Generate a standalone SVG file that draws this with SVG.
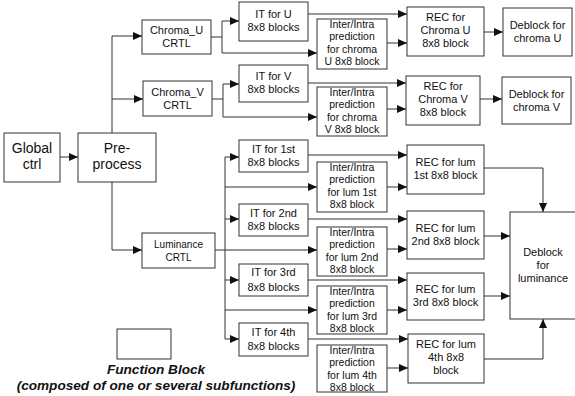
<svg xmlns="http://www.w3.org/2000/svg" width="575" height="396" viewBox="0 0 575 396">
<style>
.b{fill:#fff;stroke:#333;stroke-width:1}
.c{fill:none;stroke:#333;stroke-width:1}
text{font-family:"Liberation Sans",Arial,sans-serif;font-size:11px;fill:#111;text-anchor:middle}
.big{font-size:14px}
.sm{font-size:10px}
.ii{font-size:10.5px}
.lg{font-size:13.6px;font-weight:bold;font-style:italic}
</style>
<defs>
<marker id="a" markerWidth="9" markerHeight="8" refX="9" refY="4" orient="auto" markerUnits="userSpaceOnUse">
<path d="M0,0 L9,4 L0,8 z" fill="#111"/>
</marker>
</defs>
<g id="connectors">
<path class="c" d="M60,157 H78" marker-end="url(#a)"/>
<path class="c" d="M112,133 V36 H142" marker-end="url(#a)"/>
<path class="c" d="M112,99 H143" marker-end="url(#a)"/>
<path class="c" d="M112,182 V250 H142" marker-end="url(#a)"/>
<path class="c" d="M211,37 H222 V21 H239" marker-end="url(#a)"/>
<path class="c" d="M222,37 V53 H317" marker-end="url(#a)"/>
<path class="c" d="M308,14 H407" marker-end="url(#a)"/>
<path class="c" d="M387,43 H407" marker-end="url(#a)"/>
<path class="c" d="M484,32 H503" marker-end="url(#a)"/>
<path class="c" d="M212,99 H223 V84 H239" marker-end="url(#a)"/>
<path class="c" d="M223,99 V117 H317" marker-end="url(#a)"/>
<path class="c" d="M308,83 H406" marker-end="url(#a)"/>
<path class="c" d="M387,109 H406" marker-end="url(#a)"/>
<path class="c" d="M480,99 H502" marker-end="url(#a)"/>
<path class="c" d="M215,250 H317" marker-end="url(#a)"/>
<path class="c" d="M225,339 V157 H239" marker-end="url(#a)"/>
<path class="c" d="M225,219 H239" marker-end="url(#a)"/>
<path class="c" d="M225,280 H239" marker-end="url(#a)"/>
<path class="c" d="M225,339 H239" marker-end="url(#a)"/>
<path class="c" d="M225,187 H317" marker-end="url(#a)"/>
<path class="c" d="M225,310 H317" marker-end="url(#a)"/>
<path class="c" d="M308,155 H407" marker-end="url(#a)"/>
<path class="c" d="M387,187 H407" marker-end="url(#a)"/>
<path class="c" d="M308,219 H407" marker-end="url(#a)"/>
<path class="c" d="M387,249 H407" marker-end="url(#a)"/>
<path class="c" d="M308,280 H407" marker-end="url(#a)"/>
<path class="c" d="M387,310 H407" marker-end="url(#a)"/>
<path class="c" d="M308,339 H408" marker-end="url(#a)"/>
<path class="c" d="M387,368 H408" marker-end="url(#a)"/>
<path class="c" d="M484,168 H543 V212" marker-end="url(#a)"/>
<path class="c" d="M484,236 H510" marker-end="url(#a)"/>
<path class="c" d="M484,296 H510" marker-end="url(#a)"/>
<path class="c" d="M484,359 H543 V319" marker-end="url(#a)"/>
</g>
<g id="global"><rect class="b" x="4" y="133" width="56" height="49"/><text class="big" x="32" y="153">Global</text><text class="big" x="32" y="169">ctrl</text></g>
<g id="preprocess"><rect class="b" x="78" y="133" width="78" height="49"/><text class="big" x="117" y="153">Pre-</text><text class="big" x="117" y="169">process</text></g>
<g id="chromaU"><rect class="b" x="142" y="20" width="69" height="34"/><text x="176.5" y="34">Chroma_U</text><text x="176.5" y="47">CRTL</text></g>
<g id="chromaV"><rect class="b" x="143" y="81" width="69" height="35"/><text x="177.5" y="96">Chroma_V</text><text x="177.5" y="109">CRTL</text></g>
<g id="lumCRTL"><rect class="b" x="142" y="233" width="73" height="35"/><text class="sm" x="178.5" y="248">Luminance</text><text class="sm" x="178.5" y="261">CRTL</text></g>
<g id="itU"><rect class="b" x="239" y="2" width="69" height="39"/><text x="273.5" y="18">IT for U</text><text x="273.5" y="31">8x8 blocks</text></g>
<g id="itV"><rect class="b" x="239" y="65" width="69" height="37"/><text x="273.5" y="80">IT for  V</text><text x="273.5" y="93">8x8 blocks</text></g>
<g id="iiU" class="ii"><rect class="b" x="317" y="19" width="70" height="50"/><text class="ii" x="352" y="28">Inter/Intra</text><text class="ii" x="352" y="40">prediction</text><text class="ii" x="352" y="52.5">for chroma</text><text class="ii" x="352" y="65">U 8x8 block</text></g>
<g id="iiV"><rect class="b" x="317" y="87" width="70" height="49"/><text class="ii" x="352" y="96">Inter/Intra</text><text class="ii" x="352" y="108">prediction</text><text class="ii" x="352" y="120.5">for chroma</text><text class="ii" x="352" y="133">V 8x8 block</text></g>
<g id="recU"><rect class="b" x="407" y="7" width="77" height="49"/><text x="445.5" y="21">REC for</text><text x="445.5" y="34">Chroma U</text><text x="445.5" y="47">8x8 block</text></g>
<g id="recV"><rect class="b" x="406" y="76" width="74" height="49"/><text x="443" y="90">REC for</text><text x="443" y="103">Chroma V</text><text x="443" y="116">8x8 block</text></g>
<g id="dbU"><rect class="b" x="503" y="8" width="69" height="48"/><text x="537.5" y="29">Deblock for</text><text x="537.5" y="42">chroma U</text></g>
<g id="dbV"><rect class="b" x="502" y="77" width="69" height="47"/><text x="536.5" y="98">Deblock for</text><text x="536.5" y="111">chroma  V</text></g>
<g id="it1"><rect class="b" x="239" y="140" width="69" height="32"/><text x="273.5" y="153">IT for 1st</text><text x="273.5" y="166">8x8 blocks</text></g>
<g id="it2"><rect class="b" x="239" y="204" width="69" height="32"/><text x="273.5" y="217">IT for 2nd</text><text x="273.5" y="230">8x8 blocks</text></g>
<g id="it3"><rect class="b" x="239" y="264" width="69" height="32"/><text x="273.5" y="276">IT for 3rd</text><text x="273.5" y="291">8x8 blocks</text></g>
<g id="it4"><rect class="b" x="239" y="323" width="69" height="33"/><text x="273.5" y="336">IT for 4th</text><text x="273.5" y="350">8x8 blocks</text></g>
<g id="ii1"><rect class="b" x="317" y="162" width="70" height="50"/><text class="ii" x="352" y="171">Inter/Intra</text><text class="ii" x="352" y="183">prediction</text><text class="ii" x="352" y="195.5">for lum 1st</text><text class="ii" x="352" y="208">8x8 block</text></g>
<g id="ii2"><rect class="b" x="317" y="227" width="70" height="49"/><text class="ii" x="352" y="236">Inter/Intra</text><text class="ii" x="352" y="248">prediction</text><text class="ii" x="352" y="260.5">for lum 2nd</text><text class="ii" x="352" y="273">8x8 block</text></g>
<g id="ii3"><rect class="b" x="317" y="286" width="70" height="48"/><text class="ii" x="352" y="295">Inter/Intra</text><text class="ii" x="352" y="307">prediction</text><text class="ii" x="352" y="319.5">for lum 3rd</text><text class="ii" x="352" y="332">8x8 block</text></g>
<g id="ii4"><rect class="b" x="317" y="345" width="70" height="47"/><text class="ii" x="352" y="354">Inter/Intra</text><text class="ii" x="352" y="366">prediction</text><text class="ii" x="352" y="378.5">for lum 4th</text><text class="ii" x="352" y="391">8x8 block</text></g>
<g id="rec1"><rect class="b" x="407" y="145" width="77" height="49"/><text x="445.5" y="166">REC for lum</text><text x="445.5" y="179">1st 8x8 block</text></g>
<g id="rec2"><rect class="b" x="407" y="211" width="77" height="48"/><text x="445.5" y="232">REC for lum</text><text x="445.5" y="245">2nd 8x8 block</text></g>
<g id="rec3"><rect class="b" x="407" y="273" width="77" height="47"/><text x="445.5" y="293">REC for lum</text><text x="445.5" y="306">3rd 8x8 block</text></g>
<g id="rec4"><rect class="b" x="408" y="334" width="76" height="49"/><text x="446" y="348">REC for lum</text><text x="446" y="361">4th 8x8</text><text x="446" y="374">block</text></g>
<g id="dbL"><rect class="b" x="510" y="212" width="68" height="107"/><text x="543" y="256">Deblock</text><text x="543" y="269">for</text><text x="543" y="282">luminance</text></g>
<g id="legend"><rect class="b" x="117" y="329" width="54" height="30"/><text class="lg" x="156" y="374">Function Block</text><text class="lg" x="156" y="390">(composed of one or several subfunctions)</text></g>
</svg>
